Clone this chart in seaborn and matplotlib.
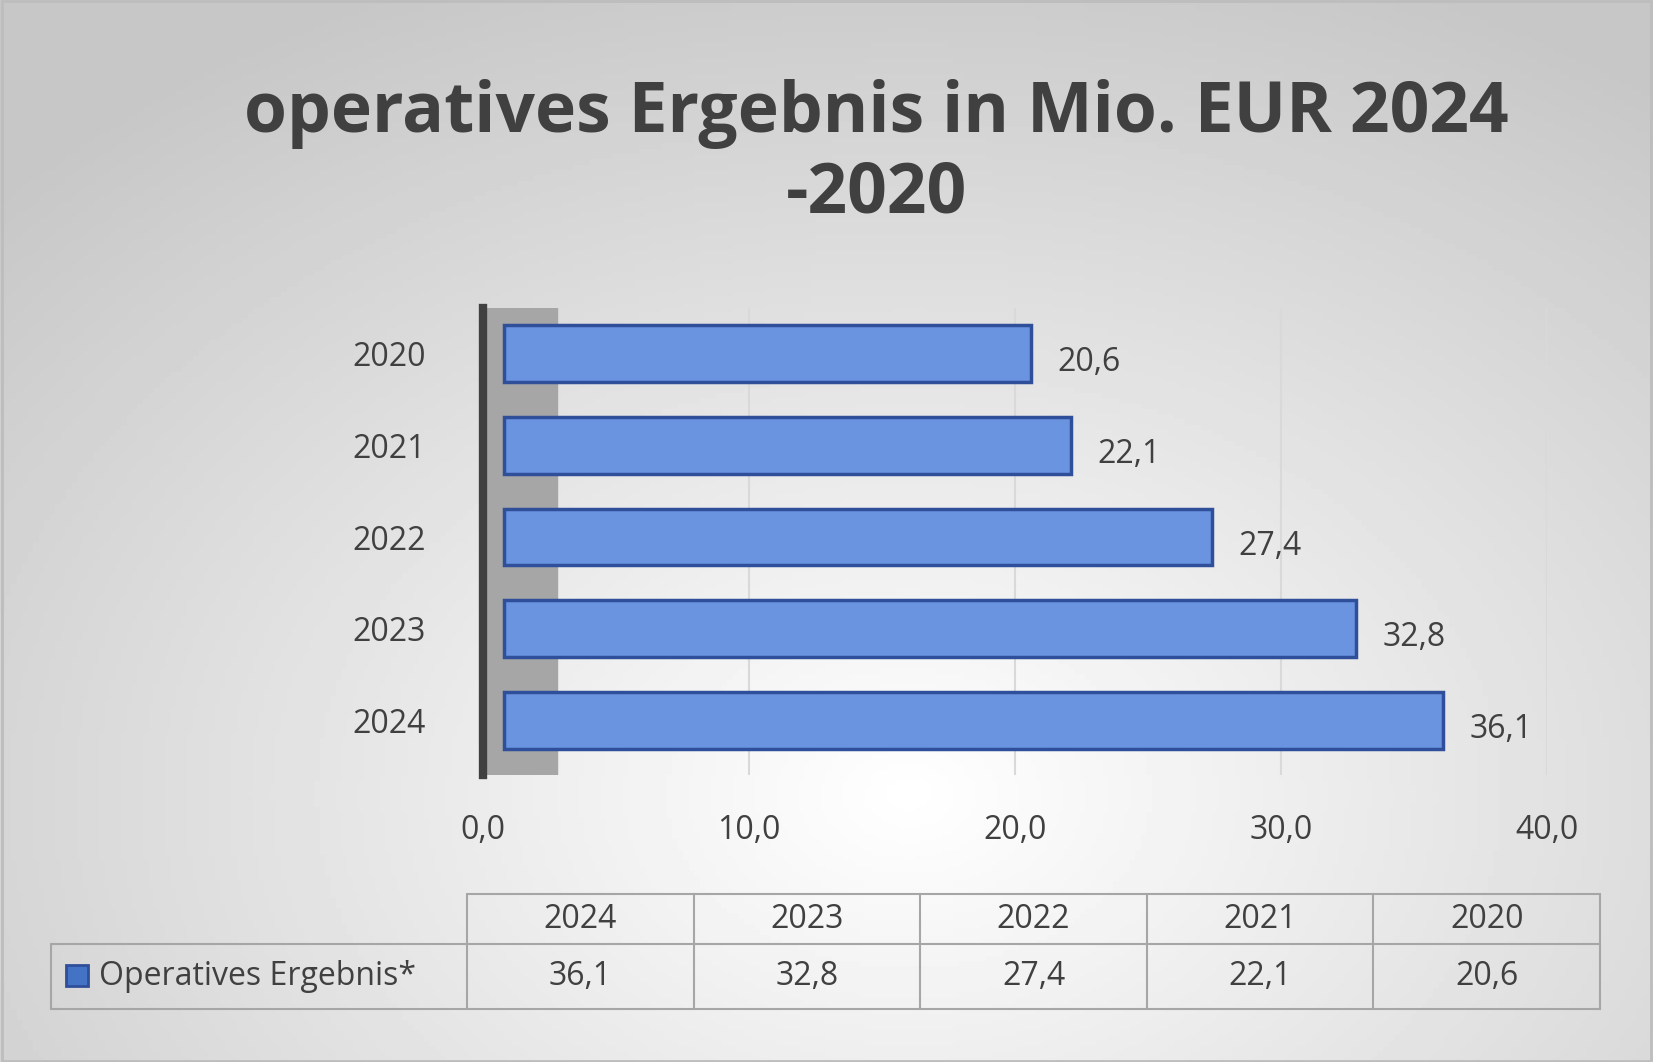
import numpy as np
import pandas as pd
import matplotlib
matplotlib.use("Agg")
import matplotlib.pyplot as plt
import seaborn as sns

years = ["2020", "2021", "2022", "2023", "2024"]
values = [20.6, 22.1, 27.4, 32.8, 36.1]
table_years = ["2024", "2023", "2022", "2021", "2020"]
table_values = [36.1, 32.8, 27.4, 22.1, 20.6]
series_name = "Operatives Ergebnis*"
title = "operatives Ergebnis in Mio. EUR 2024\n-2020"

sns.set_theme(style="white")
plt.rcParams['font.family'] = ['Open Sans', 'DejaVu Sans']

fig = plt.figure(figsize=(16.53, 10.62), dpi=100)
bg = fig.add_axes([0, 0, 1, 1], zorder=-10)
yy, xx = np.mgrid[0:1:200j, 0:1:300j]
r = np.sqrt(((xx - 0.55) * 1.0) ** 2 + ((yy - 0.75) * 0.9) ** 2)
bg.imshow(1 - 0.22 * np.clip(r / 0.75, 0, 1), cmap="gray", vmin=0, vmax=1, aspect="auto", extent=[0, 1, 0, 1])
bg.add_patch(plt.Rectangle((0.001, 0.001), 0.998, 0.998, fill=False, ec="#bdbdbd", lw=2))
bg.set_xlim(0, 1); bg.set_ylim(0, 1)
bg.set_axis_off()

fig.text(0.53, 0.855, title, ha="center", va="center", fontsize=50, fontweight="bold", color="#404040", linespacing=1.2)

ax = fig.add_axes([0.292, 0.27, 0.644, 0.44])
ax.patch.set_alpha(0)
df = pd.DataFrame({"year": years, "value": values})
sns.barplot(data=df, x="value", y="year", orient="h", color="#6a93e0", edgecolor="#2f4f9a",
            linewidth=2.5, width=0.62, ax=ax, saturation=1)
for p in ax.patches:
    p.set_x(0.8)
    p.set_width(p.get_width() - 0.8)
for i, v in enumerate(values):
    ax.text(v + 1, i + 0.1, f"{v:.1f}".replace(".", ","), va="center", fontsize=23, color="#404040")
ax.set_xlim(0, 40)
ax.set_ylim(4.6, -0.5)
ax.set_xticks([0, 10, 20, 30, 40])
ax.set_xticklabels(["0,0", "10,0", "20,0", "30,0", "40,0"], fontsize=23, color="#404040")
ax.tick_params(axis="y", labelsize=23, labelcolor="#404040", pad=35)
ax.tick_params(axis="x", pad=22)
ax.grid(axis="x", color="#d9d9d9", lw=1.5)
ax.set_axisbelow(True)
ax.axvspan(-0.05, 2.8, color="#a6a6a6", zorder=0.5)
for s in ["top", "right", "bottom"]:
    ax.spines[s].set_visible(False)
ax.spines["left"].set_linewidth(6)
ax.spines["left"].set_color("#404040")
ax.set_xlabel("")
ax.set_ylabel("")

# data table drawn manually in figure coords
L, H, R = 0.031, 0.2825, 0.968
ytop, ymid, ybot = 0.158, 0.111, 0.050
lc = "#a6a6a6"
bg.plot([H, R], [ytop, ytop], color=lc, lw=1.5)
bg.plot([L, R], [ymid, ymid], color=lc, lw=1.5)
bg.plot([L, R], [ybot, ybot], color=lc, lw=1.5)
bg.plot([L, L], [ymid, ybot], color=lc, lw=1.5)
n = len(table_years)
w = (R - H) / n
for k in range(n + 1):
    bg.plot([H + k * w, H + k * w], [ytop, ybot], color=lc, lw=1.5)
for k in range(n):
    cx = H + (k + 0.5) * w
    bg.text(cx, (ytop + ymid) / 2, table_years[k], ha="center", va="center", fontsize=23, color="#404040")
    bg.text(cx, (ymid + ybot) / 2, f"{table_values[k]:.1f}".replace(".", ","), ha="center", va="center",
            fontsize=23, color="#404040")
bg.add_patch(plt.Rectangle((0.040, 0.072), 0.013, 0.019, fc="#4472c4", ec="#2f4f9a", lw=2))
bg.text(0.060, (ymid + ybot) / 2, series_name, ha="left", va="center", fontsize=23, color="#404040")
fig.savefig("out.png", dpi=100)
